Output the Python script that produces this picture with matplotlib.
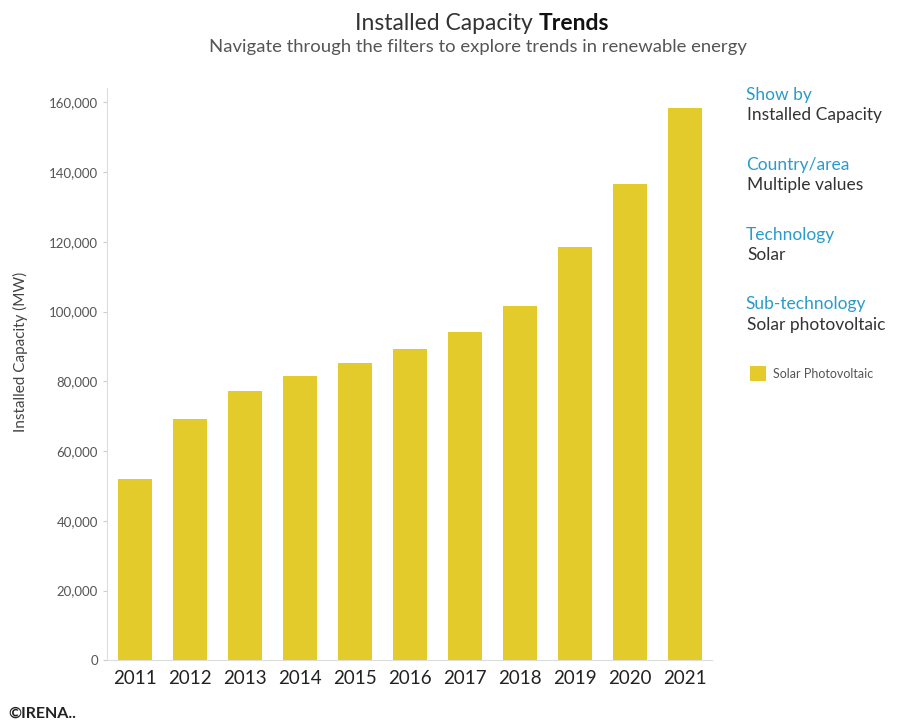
import matplotlib.pyplot as plt
from matplotlib.ticker import FuncFormatter

years = ["2011", "2012", "2013", "2014", "2015", "2016", "2017", "2018", "2019", "2020", "2021"]
capacity = [51900, 69200, 77300, 81600, 85200, 89200, 94000, 101700, 118400, 136500, 158300]
yticks = [0, 20000, 40000, 60000, 80000, 100000, 120000, 140000, 160000]

filters = [("Show by", "Installed Capacity"),
           ("Country/area", "Multiple values"),
           ("Technology", "Solar"),
           ("Sub-technology", "Solar photovoltaic")]

bar_color = "#E2CB2B"
blue = "#2B9BCB"

plt.rcParams['font.family'] = ['Lato', 'DejaVu Sans']

fig = plt.figure(figsize=(9.06, 7.24), dpi=100)
ax = fig.add_axes([0.118, 0.088, 0.668, 0.79])

x = range(len(years))
ax.bar(x, capacity, width=0.62, color=bar_color, label="Solar Photovoltaic")

ax.set_xlim(-0.51, 10.5)
ax.set_ylim(0, 164000)
ax.set_yticks(yticks)
ax.yaxis.set_major_formatter(FuncFormatter(lambda v, p: f"{int(v):,}"))
ax.set_xticks(list(x))
ax.set_xticklabels(years)
ax.tick_params(axis='y', labelsize=9.5, colors="#cccccc", labelcolor="#555555", length=3, width=0.8)
ax.tick_params(axis='x', labelsize=13.5, labelcolor="#222222", length=0, pad=7)

for s in ["top", "right"]:
    ax.spines[s].set_visible(False)
ax.spines["left"].set_color("#dddddd")
ax.spines["bottom"].set_color("#dddddd")

ax.set_ylabel("Installed Capacity (MW)", fontsize=11, color="#444444", labelpad=12)
ax.yaxis.set_label_coords(-0.13, 0.54)

# title with bold part
fig.text(0.594, 0.967, "Installed Capacity ", ha="right", va="center", fontsize=16.5, color="#333333")
fig.text(0.594, 0.967, "Trends", ha="left", va="center", fontsize=16.5, color="#111111", fontweight="bold")
fig.text(0.527, 0.935, "Navigate through the filters to explore trends in renewable energy",
         ha="center", va="center", fontsize=13.3, color="#555555")

# filter panel on the right
y0 = 0.869
for i, (head, val) in enumerate(filters):
    yy = y0 - i * 0.0965
    fig.text(0.823, yy, head, ha="left", va="center", fontsize=12.5, color=blue)
    fig.text(0.825, yy - 0.028, val, ha="left", va="center", fontsize=12.5, color="#333333")

# legend
h, l = ax.get_legend_handles_labels()
fig.legend(h, l, loc="center left", bbox_to_anchor=(0.815, 0.484), frameon=False,
           fontsize=9, labelcolor="#555555", handlelength=1.3, handleheight=1.5,
           handletextpad=0.6)

fig.text(0.009, 0.014, "\u00a9IRENA..", ha="left", va="center", fontsize=11.5,
         fontweight="bold", color="#222222")

fig.savefig("out.png", dpi=100, facecolor="white")
